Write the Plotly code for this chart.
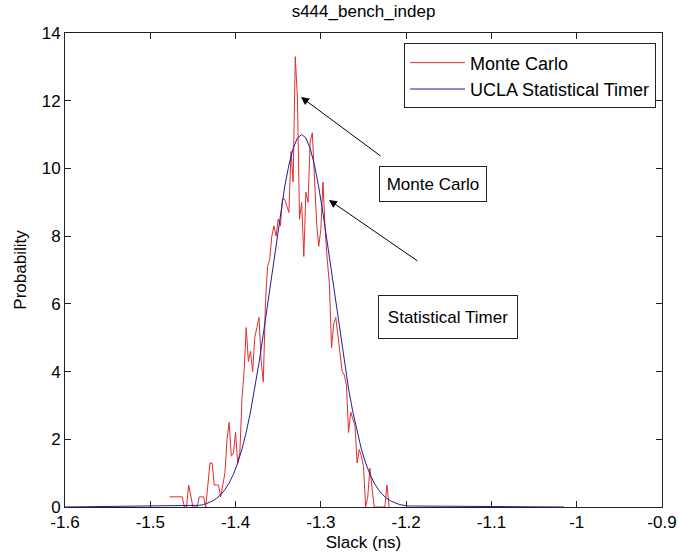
import plotly.graph_objects as go

# Monte Carlo histogram-like trace (slack in ns, probability density)
red_x = [-1.4775, -1.475, -1.4725, -1.47, -1.4675, -1.465, -1.4625, -1.46, -1.4575, -1.455,
         -1.4525, -1.45, -1.4475, -1.445, -1.4425, -1.44, -1.4375, -1.435, -1.4325, -1.43,
         -1.4275, -1.425, -1.4225, -1.42, -1.4175, -1.415, -1.4125, -1.41, -1.4075, -1.405,
         -1.4025, -1.4, -1.3975, -1.395, -1.3925, -1.39, -1.3875, -1.385, -1.3825, -1.38,
         -1.3775, -1.375, -1.3725, -1.37, -1.3675, -1.365, -1.3625, -1.36, -1.3575, -1.355,
         -1.3525, -1.35, -1.3475, -1.345, -1.3425, -1.34, -1.3375, -1.335, -1.3325, -1.33,
         -1.3275, -1.325, -1.3225, -1.32, -1.3175, -1.315, -1.3125, -1.31, -1.3075, -1.305,
         -1.3025, -1.3, -1.2975, -1.295, -1.2925, -1.29, -1.2875, -1.285, -1.2825, -1.28,
         -1.2775, -1.275, -1.2725, -1.27, -1.2675, -1.265, -1.2625, -1.26, -1.2575, -1.255,
         -1.2525, -1.25, -1.2475, -1.245, -1.2425, -1.24, -1.2375, -1.235, -1.2325, -1.23,
         -1.2275, -1.225, -1.2225, -1.22]
red_y = [0.3, 0.3, 0.3, 0.3, 0.3, 0.3, 0.3, 0.0, 0.0, 0.65,
         0.3, 0.0, 0.0, 0.0, 0.3, 0.3, 0.3, 0.0, 0.65, 1.3,
         1.3, 0.65, 0.65, 0.65, 0.3, 0.65, 1.0, 2.0, 2.5, 1.5,
         1.6, 2.2, 1.3, 1.6, 3.2, 4.0, 5.3, 4.3, 4.6, 4.0,
         5.0, 5.3, 5.6, 4.3, 3.7, 6.0, 7.1, 7.3, 8.0, 8.3,
         8.0, 8.5, 8.3, 9.1, 9.1, 8.9, 8.7, 10.5, 9.6, 13.3,
         12.1, 8.5, 9.0, 7.4, 9.3, 9.0, 10.8, 11.05, 9.5, 8.4,
         7.7, 8.2, 9.6, 8.2, 7.3, 6.6, 4.7, 5.4, 5.6, 5.0,
         4.6, 4.0, 3.9, 3.6, 2.2, 2.8, 2.6, 2.4, 1.3, 1.7,
         1.5, 1.2, 0.0, 0.3, 1.15, 0.6, 0.0, 0.0, 0.0, 0.0,
         0.0, 0.0, 0.65, 0.0]

# UCLA Statistical Timer curve
blue_x = [-1.6, -1.4475, -1.4425, -1.4375, -1.4325, -1.4275, -1.4225, -1.4175, -1.4125, -1.4075,
          -1.4025, -1.3975, -1.3925, -1.3875, -1.3825, -1.3775, -1.3725, -1.3675, -1.3625, -1.3575,
          -1.3525, -1.3475, -1.3425, -1.3375, -1.3325, -1.3275, -1.3225, -1.3175, -1.3125, -1.3075,
          -1.3025, -1.2975, -1.2925, -1.2875, -1.2825, -1.2775, -1.2725, -1.2675, -1.2625, -1.2575,
          -1.2525, -1.2475, -1.2425, -1.2375, -1.2325, -1.2275, -1.2225, -1.2175, -1.2125, -1.2075,
          -1.2025, -1.1975, -1.015]
blue_y = [0.0, 0.03, 0.05, 0.07, 0.11, 0.17, 0.25, 0.36, 0.51, 0.71,
          0.97, 1.30, 1.71, 2.21, 2.81, 3.49, 4.26, 5.10, 5.99, 6.91,
          7.82, 8.68, 9.45, 10.10, 10.59, 10.90, 11.0, 10.90, 10.59, 10.10,
          9.45, 8.68, 7.82, 6.91, 5.99, 5.10, 4.26, 3.49, 2.81, 2.21,
          1.71, 1.30, 0.97, 0.71, 0.51, 0.36, 0.25, 0.17, 0.11, 0.07,
          0.05, 0.03, 0.0]

x_tick_vals = [-1.6, -1.5, -1.4, -1.3, -1.2, -1.1, -1.0, -0.9]
x_tick_text = ["-1.6", "-1.5", "-1.4", "-1.3", "-1.2", "-1.1", "-1", "-0.9"]
y_tick_vals = [0, 2, 4, 6, 8, 10, 12, 14]
y_tick_text = ["0", "2", "4", "6", "8", "10", "12", "14"]

series_names = ["Monte Carlo", "UCLA Statistical Timer"]
title_text = "s444_bench_indep"
x_title = "Slack (ns)"
y_title = "Probability"
note_mc = "Monte Carlo"
note_st = "Statistical Timer"

FONT = "Liberation Sans, Arial, Helvetica, sans-serif"
AX = "#222222"

fig = go.Figure()
fig.add_trace(go.Scatter(x=red_x, y=red_y, mode="lines", name=series_names[0],
                         line=dict(color="rgb(225,45,45)", width=1)))
fig.add_trace(go.Scatter(x=blue_x, y=blue_y, mode="lines", name=series_names[1],
                         line=dict(color="rgb(30,30,160)", width=1)))

axis_common = dict(ticks="inside", ticklen=6, tickcolor=AX, tickwidth=1,
                   showline=True, linecolor=AX, linewidth=1, mirror="allticks",
                   showgrid=False, zeroline=False, automargin=False,
                   tickfont=dict(family=FONT, size=17, color="black"))

fig.update_layout(
    width=678, height=560,
    margin=dict(l=65, r=16, t=33, b=53),
    paper_bgcolor="white", plot_bgcolor="white",
    font=dict(family=FONT, size=17, color="black"),
    title=dict(text=title_text, x=363.5 / 678, xanchor="center",
               y=1 - 11 / 560, yanchor="middle", yref="container",
               font=dict(family=FONT, size=17, color="black")),
    xaxis=dict(range=[-1.6, -0.9], tickmode="array", tickvals=x_tick_vals,
               ticktext=x_tick_text,
               title=dict(text=x_title, standoff=4, font=dict(size=17)),
               **axis_common),
    yaxis=dict(range=[0, 14], tickmode="array", tickvals=y_tick_vals,
               ticktext=y_tick_text,
               title=dict(text=y_title, standoff=10, font=dict(size=17)),
               **axis_common),
    legend=dict(x=0.99, y=0.978, xanchor="right", yanchor="top",
                bordercolor=AX, borderwidth=1, bgcolor="white",
                font=dict(family=FONT, size=18, color="black"),
                itemwidth=55, tracegroupgap=0),
    showlegend=True,
)

# text boxes
fig.add_annotation(text=note_mc, xref="paper", yref="paper",
                   x=(379 - 65) / 597, y=(507 - 166) / 474,
                   xanchor="left", yanchor="top", showarrow=False,
                   bordercolor=AX, borderwidth=1, borderpad=0,
                   width=106, height=34, align="center", valign="middle",
                   bgcolor="white", font=dict(family=FONT, size=17, color="black"))
fig.add_annotation(text=note_st, xref="paper", yref="paper",
                   x=(378 - 65) / 597, y=(507 - 295) / 474,
                   xanchor="left", yanchor="top", showarrow=False,
                   bordercolor=AX, borderwidth=1, borderpad=0,
                   width=138, height=42, align="center", valign="middle",
                   bgcolor="white", font=dict(family=FONT, size=17, color="black"))

# arrows
fig.add_annotation(text="", x=-1.3233, y=12.11, xref="x", yref="y",
                   showarrow=True, ax=81, ay=60, arrowhead=2, arrowsize=1.6,
                   arrowwidth=1, arrowcolor="black")
fig.add_annotation(text="", x=-1.2905, y=9.07, xref="x", yref="y",
                   showarrow=True, ax=90, ay=62, arrowhead=2, arrowsize=1.6,
                   arrowwidth=1, arrowcolor="black")

fig.write_html("out.html")
